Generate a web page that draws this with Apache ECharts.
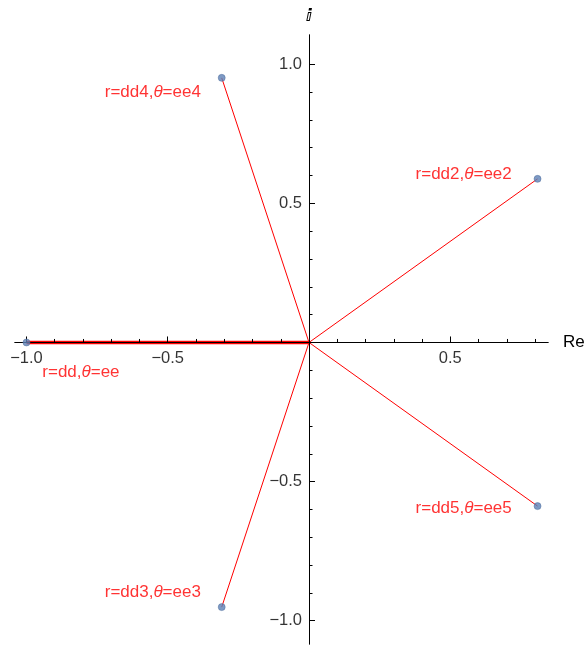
<!DOCTYPE html>
<html>
<head>
<meta charset="utf-8">
<script src="https://cdn.jsdelivr.net/npm/echarts@6/dist/echarts.min.js"></script>
<style>
  html, body { margin: 0; padding: 0; background: #ffffff; }
  #chart { width: 585px; height: 646px; }
</style>
</head>
<body>
<div id="chart"></div>
<script>
// Fifth roots of -1 drawn in the complex plane, each joined to the origin
const rootRe = [-1.0, 0.809, -0.309, -0.309, 0.809];
const rootIm = [0.0, 0.588, -0.951, 0.951, -0.588];
const rootSuffix = ['', '2', '3', '4', '5'];

const xMajorTicks = [-1.0, -0.5, 0.5];
const xMinorTicks = [-0.9, -0.8, -0.7, -0.6, -0.4, -0.3, -0.2, -0.1,
                     0.1, 0.2, 0.3, 0.4, 0.6, 0.7, 0.8];
const yMajorTicks = [-1.0, -0.5, 0.5, 1.0];
const yMinorTicks = [-0.9, -0.8, -0.7, -0.6, -0.4, -0.3, -0.2, -0.1,
                     0.1, 0.2, 0.3, 0.4, 0.6, 0.7, 0.8, 0.9];

// where each callout sits relative to its point
const labelPlace = [
  { position: 'right', offset: [7, 30] },
  { position: 'left', offset: [-17, -5] },
  { position: 'left', offset: [-12, -15] },
  { position: 'left', offset: [-12, 14] },
  { position: 'left', offset: [-17, 2] }
];
// the spoke lying along the real axis is drawn wider so it shows around the axis line
const spokeWidths = [3.4, 1, 1, 1, 1];

const FONT = '"Liberation Sans", Arial, sans-serif';
const AXIS_COLOR = '#000000';
const X_RANGE = [-1.0407, 0.846];
const Y_RANGE = [-1.0836, 1.105];

const fmt = v => (v < 0 ? '\u2212' : '') + Math.abs(v).toFixed(1);

function makeAxis(isX, major, minor, extra) {
  const base = {
    type: 'value',
    z: 3,
    min: isX ? X_RANGE[0] : Y_RANGE[0],
    max: isX ? X_RANGE[1] : Y_RANGE[1],
    position: isX ? 'bottom' : 'left',
    splitLine: { show: false },
    axisLabel: { show: false },
    axisLine: {
      show: true, onZero: true, onZeroAxisIndex: 0,
      lineStyle: { color: AXIS_COLOR, width: 1 }
    }
  };
  const majorAxis = Object.assign({}, base, {
    axisTick: {
      show: true, inside: true, length: 6, customValues: major,
      lineStyle: { color: AXIS_COLOR, width: 1 }
    }
  }, extra);
  const minorAxis = Object.assign({}, base, {
    axisTick: {
      show: true, inside: true, length: 3.5, customValues: minor,
      lineStyle: { color: AXIS_COLOR, width: 1 }
    }
  });
  return [majorAxis, minorAxis];
}

// tick labels that sit along the axes through the origin
function tickLabels(values, isX) {
  return {
    type: 'scatter',
    xAxisIndex: 0, yAxisIndex: 0,
    symbolSize: 0.01,
    silent: true,
    z: 4,
    itemStyle: { color: 'rgba(0,0,0,0)' },
    label: {
      show: true,
      position: isX ? 'bottom' : 'left',
      distance: 7,
      formatter: p => fmt(isX ? p.value[0] : p.value[1]),
      fontSize: 16.5, fontFamily: FONT, color: '#000000'
    },
    data: values.map(v => (isX ? [v, 0] : [0, v]))
  };
}

const points = rootRe.map((x, i) => [x, rootIm[i]]);

const spokes = points.map((p, i) => ({
  type: 'line',
  xAxisIndex: 0, yAxisIndex: 0,
  data: [[0, 0], p],
  symbol: 'none',
  silent: true,
  z: 2,
  lineStyle: { color: '#ff0000', width: spokeWidths[i] }
}));

const rootPoints = {
  type: 'scatter',
  xAxisIndex: 0, yAxisIndex: 0,
  symbolSize: 7,
  z: 5,
  itemStyle: { color: '#5e81b5', borderColor: '#4a6a9a', borderWidth: 0.6 },
  data: points.map((p, i) => ({
    value: p,
    label: {
      show: true,
      position: labelPlace[i].position,
      offset: labelPlace[i].offset,
      distance: 5,
      formatter: 'r=dd' + rootSuffix[i] + ',{t|\u03b8}=ee' + rootSuffix[i],
      color: '#ff0000',
      fontSize: 17,
      fontFamily: FONT,
      rich: {
        t: { fontStyle: 'italic', fontSize: 17, fontFamily: FONT, color: '#ff0000' }
      }
    }
  }))
};

const chart = echarts.init(document.getElementById('chart'), null, { renderer: 'canvas' });
chart.setOption({
  backgroundColor: '#ffffff',
  animation: false,
  grid: { left: 15, right: 37, top: 35, bottom: 2, containLabel: false, outerBoundsMode: 'none' },
  xAxis: makeAxis(true, xMajorTicks, xMinorTicks, {
    name: 'Re', nameLocation: 'end', nameGap: 15,
    nameTextStyle: { fontSize: 17, fontFamily: FONT, color: '#000000' }
  }),
  yAxis: makeAxis(false, yMajorTicks, yMinorTicks, {
    name: '\u2148', nameLocation: 'end', nameGap: 10,
    nameTextStyle: { fontSize: 17, fontFamily: '"DejaVu Sans", sans-serif',
                     fontWeight: 'bold', color: '#000000', align: 'center' }
  }),
  series: spokes.concat([
    tickLabels(xMajorTicks, true),
    tickLabels(yMajorTicks, false),
    rootPoints
  ])
});
</script>
</body>
</html>
